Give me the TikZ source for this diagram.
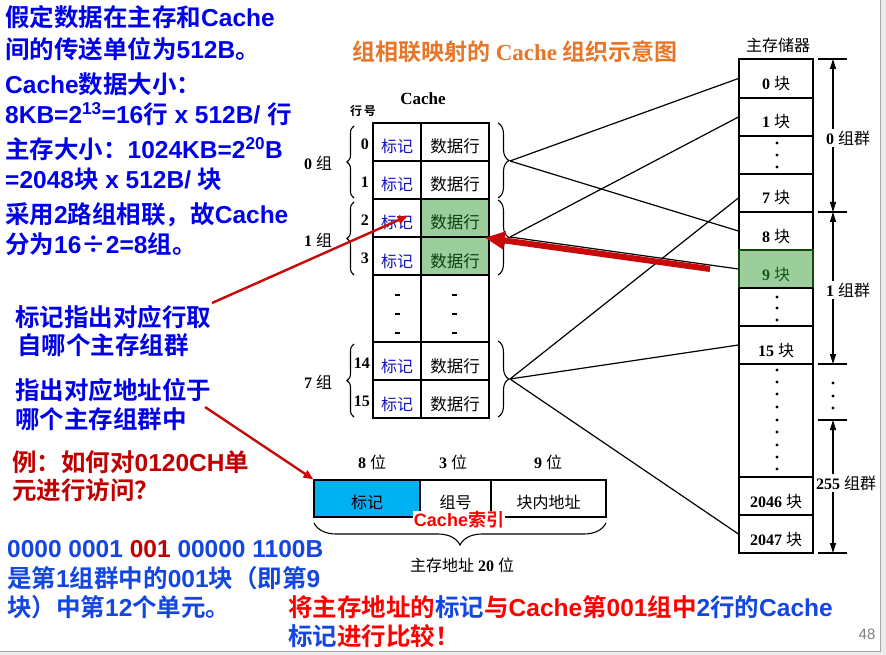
\documentclass[tikz,border=0pt]{standalone}
\usepackage{fontspec}
\setmainfont{Liberation Serif}
\setsansfont{Liberation Sans}
\newfontfamily\cjk[BoldFont={Noto Sans CJK SC Bold}]{Noto Sans CJK SC}
\usetikzlibrary{arrows.meta,decorations.pathreplacing}
\newcommand\zh[1]{{\cjk #1}}
\newcommand\zr[1]{{\cjk\mdseries #1}}
\definecolor{tblue}{RGB}{0,0,235}
\definecolor{lblue}{RGB}{20,70,225}
\definecolor{dred}{RGB}{192,0,0}
\definecolor{bred}{RGB}{255,0,0}
\definecolor{arrred}{RGB}{200,10,10}
\definecolor{cellblue}{RGB}{20,20,190}
\definecolor{gfill}{RGB}{156,206,156}
\definecolor{dgreen}{RGB}{20,90,20}
\definecolor{cyanf}{RGB}{0,176,240}
\definecolor{orangeT}{RGB}{232,118,40}
\definecolor{pagegray}{RGB}{236,236,236}
\tikzset{
  big/.style={anchor=base west, inner sep=0pt, font=\fontsize{24.5}{29}\selectfont\sffamily\bfseries},
  lbl/.style={inner sep=0pt, font=\fontsize{16}{18}\selectfont\bfseries},
  memblk/.style={draw, line width=1.2pt, minimum width=74pt, inner sep=0pt, text height=30pt, text depth=8pt, font=\fontsize{16}{18}\selectfont\bfseries},
  tagcell/.style={draw, line width=1.4pt, minimum width=48pt, minimum height=38pt, inner sep=0pt, text height=30pt, text depth=8pt, font=\fontsize{16}{18}\selectfont, text=cellblue},
  datacell/.style={draw, line width=1.4pt, minimum width=68pt, minimum height=38pt, inner sep=0pt, text height=30pt, text depth=8pt, font=\fontsize{16.5}{18}\selectfont},
  addrcell/.style={draw, line width=1.2pt, minimum height=37pt, inner sep=0pt, text height=28pt, text depth=9pt, font=\fontsize{16}{18}\selectfont},
  conn/.style={line width=1.2pt},
  dimline/.style={line width=1.1pt, {Triangle[length=10pt,width=6pt]}-{Triangle[length=10pt,width=6pt]}},
  bracedec/.style={decorate, decoration={brace, amplitude=#1}, line width=1.1pt},
  thinred/.style={arrred, line width=2.4pt, -{Triangle[length=10pt,width=8pt]}},
  dotm/.style={circle, fill, inner sep=0pt, minimum size=3.2pt},
}
\begin{document}
\begin{tikzpicture}[x=1pt,y=-1pt]
\useasboundingbox (0,0) rectangle (886,655);
\fill[pagegray] (0,0) rectangle (886,655);
\fill[white] (0,0) rectangle (880,651);
\draw[gray!70, line width=0.8pt] (880,0) -- (880,651) -- (0,651);

% ---------- left texts ----------
\node[big, text=tblue] (t1) at (5,27) {\zh{假定数据在主存和}Cache};
\node[big, text=tblue] (t2) at (5,59) {\zh{间的传送单位为}512B\zh{。}};
\node[big, text=tblue] (t3) at (5,94) {Cache\zh{数据大小：}};
\node[big, text=tblue] (t4) at (5,124) {8KB=2\textsuperscript{13}=16\zh{行} x 512B/ \zh{行}};
\node[big, text=tblue] (t5) at (5,159) {\zh{主存大小：}1024KB=2\textsuperscript{20}B};
\node[big, text=tblue] (t6) at (5,189) {=2048\zh{块} x 512B/ \zh{块}};
\node[big, text=tblue] (t7) at (5,224) {\zh{采用}2\zh{路组相联，故}Cache};
\node[big, text=tblue] (t8) at (5,254) {\zh{分为}16\zh{÷}2=8\zh{组。}};
\node[big, text=tblue] (m1) at (15,326) {\zh{标记指出对应行取}};
\node[big, text=tblue] (m2) at (17,354) {\zh{自哪个主存组群}};
\node[big, text=tblue] (m3) at (15,399) {\zh{指出对应地址位于}};
\node[big, text=tblue] (m4) at (15,428) {\zh{哪个主存组群中}};
\node[big, text=dred] (e1) at (12,471) {\zh{例：如何对}0120CH\zh{单}};
\node[big, text=dred] (e2) at (12,499) {\zh{元进行访问？}};
\node[big, text=lblue] (b1) at (7,557) {0000 0001 \textcolor{dred}{001} 00000 1100B};
\node[big, text=lblue] (b2) at (7,587) {\zh{是第}1\zh{组群中的}001\zh{块（即第}9};
\node[big, text=lblue] (b3) at (7,616) {\zh{块）中第}12\zh{个单元。}};
\node[big, text=bred] (c1) at (288,616) {\zh{将主存地址的}\textcolor{lblue}{\zh{标记}}\zh{与}Cache\zh{第}001\zh{组中}\textcolor{lblue}{2\zh{行的}Cache}};
\node[big, text=bred] (c2) at (288,645) {\textcolor{lblue}{\zh{标记}}\zh{进行比较！}};
\node[anchor=base, inner sep=0pt, font=\fontsize{15}{17}\selectfont\sffamily, text=gray] (pg) at (867,639) {48};

% ---------- title ----------
\node[inner sep=0pt, font=\fontsize{23}{25}\selectfont\bfseries, text=orangeT] (title) at (515,52) {\zh{组相联映射的} Cache \zh{组织示意图}};

% ---------- cache ----------
\node[font=\fontsize{17}{19}\selectfont\bfseries, inner sep=0pt] (cachelbl) at (423,99) {Cache};
\node[inner sep=0pt, font=\fontsize{12}{14}\selectfont\bfseries] (hh) at (363,111) {\zh{行\,号}};
\node[tagcell] (tg0) at (397,142) {\zr{标记}};
\node[datacell] (dt0) at (455,142) {\zr{数据行}};
\node[tagcell] (tg1) at (397,180) {\zr{标记}};
\node[datacell] (dt1) at (455,180) {\zr{数据行}};
\node[tagcell] (tg2) at (397,218) {\zr{标记}};
\node[datacell, fill=gfill, text=dgreen!70!black] (dt2) at (455,218) {\zr{数据行}};
\node[tagcell] (tg3) at (397,256) {\zr{标记}};
\node[datacell, fill=gfill, text=dgreen!70!black] (dt3) at (455,256) {\zr{数据行}};
\node[draw, line width=1.4pt, minimum width=48pt, minimum height=67pt, inner sep=0pt] (tgd) at (397,308.5) {};
\node[draw, line width=1.4pt, minimum width=68pt, minimum height=67pt, inner sep=0pt] (dtd) at (455,308.5) {};
\node[tagcell] (tg14) at (397,361) {\zr{标记}};
\node[datacell] (dt14) at (455,361) {\zr{数据行}};
\node[tagcell] (tg15) at (397,399) {\zr{标记}};
\node[datacell] (dt15) at (455,399) {\zr{数据行}};
\foreach \yy in {294,313,332} {
  \fill (395,\yy) rectangle (400,\yy+2);
  \fill (452,\yy) rectangle (457,\yy+2);
}
% row numbers
\node[lbl, anchor=east] (r0) at (369,144) {0};
\node[lbl, anchor=east] (r1) at (369,182) {1};
\node[lbl, anchor=east] (r2) at (369,220) {2};
\node[lbl, anchor=east] (r3) at (369,258) {3};
\node[lbl, anchor=east] (r14) at (370,363) {14};
\node[lbl, anchor=east] (r15) at (370,401) {15};
% group labels
\node[lbl] (g0l) at (318,163) {0 \zr{组}};
\node[lbl] (g1l) at (318,240) {1 \zr{组}};
\node[lbl] (g7l) at (318,382) {7 \zr{组}};
% left braces
\draw[bracedec=7pt] (354,198) -- (354,126);
\draw[bracedec=7pt] (354,275) -- (354,202);
\draw[bracedec=7pt] (354,417) -- (354,344);
% right braces
\draw[bracedec=11pt] (498,123) -- (498,198);
\draw[bracedec=11pt] (498,200) -- (498,275);
\draw[bracedec=11pt] (498,341) -- (498,417);
\coordinate (gp0) at (510,161);
\coordinate (gp1) at (510,237);
\coordinate (gp7) at (510,379);

% ---------- main memory ----------
\node[font=\fontsize{16}{18}\selectfont] (mmlbl) at (778,45) {\zr{主存储器}};
\node[memblk, minimum height=39pt] (mb0) at (776,78.5) {0 \zr{块}};
\node[memblk, minimum height=38pt] (mb1) at (776,117) {1 \zr{块}};
\node[memblk, minimum height=38pt] (mbd1) at (776,155) {};
\node[memblk, minimum height=38pt] (mb7) at (776,193) {7 \zr{块}};
\node[memblk, minimum height=38pt] (mb8) at (776,231) {8 \zr{块}};
\node[memblk, minimum height=38pt, fill=gfill, draw=dgreen!80!black, text=dgreen] (mb9) at (776,269) {9 \zr{块}};
\node[memblk, minimum height=38pt] (mbd2) at (776,307) {};
\node[memblk, minimum height=38pt] (mb15) at (776,345) {15 \zr{块}};
\node[memblk, minimum height=113pt, text height=0pt, text depth=0pt] (mbd3) at (776,420.5) {};
\node[memblk, minimum height=38pt] (mb2046) at (776,496) {2046 \zr{块}};
\node[memblk, minimum height=38pt] (mb2047) at (776,534) {2047 \zr{块}};
\foreach \yy in {143,155,167} \node[dotm] at (777,\yy) {};
\foreach \yy in {297,308,320} \node[dotm] at (777,\yy) {};
\foreach \yy in {370,382,394,407,420,432,445,457,469} \node[dotm] at (777,\yy) {};

% dimension marks
\coordinate (k0) at (833,59);
\coordinate (k1) at (833,212);
\coordinate (k2) at (833,364);
\coordinate (k3) at (833,420);
\coordinate (k4) at (833,553);
\foreach \k in {k0,k1,k2,k3,k4} \draw[line width=1.1pt] ([xshift=-15pt]\k) -- ([xshift=14pt]\k);
\draw[dimline] (k0) -- (k1);
\draw[dimline] (k1) -- (k2);
\draw[dimline] (k3) -- (k4);
\foreach \yy in {383,396,408} \node[dotm] at (833,\yy) {};
\node[lbl, fill=white, inner sep=2pt] (d0) at (848,138) {0 \zr{组群}};
\node[lbl, fill=white, inner sep=2pt] (d1) at (848,290) {1 \zr{组群}};
\node[lbl, fill=white, inner sep=2pt] (d255) at (846,483) {255 \zr{组群}};

% ---------- connectors ----------
\draw[conn] (gp0) -- (mb0.west);
\draw[conn] (gp0) -- (mb8.west);
\draw[conn] (gp1) -- (mb1.west);
\draw[conn] (gp1) -- (mb9.west);
\draw[conn] (gp7) -- ([yshift=-5pt]mb7.west);
\draw[conn] (gp7) -- (mb15.west);
\draw[conn] (gp7) -- (mb2047.west);

% ---------- address ----------
\node[lbl] (w8) at (372,462) {8 \zr{位}};
\node[lbl] (w3) at (453,462) {3 \zr{位}};
\node[lbl] (w9) at (548,462) {9 \zr{位}};
\node[addrcell, minimum width=106pt, fill=cyanf] (atag) at (367,498.5) {\zr{标记}};
\node[addrcell, minimum width=71pt] (agrp) at (455.5,498.5) {\zr{组号}};
\node[addrcell, minimum width=115pt] (aoff) at (548.5,498.5) {\zr{块内地址}};
\node[fill=white, inner sep=1pt, font=\fontsize{18}{20}\selectfont\sffamily\bfseries, text=bred] (cidx) at (459,520) {Cache\zh{索引}};
\draw[bracedec=22pt] (606,523) -- (314,523);
\node[font=\fontsize{16}{18}\selectfont] (addrlbl) at (462,565) {\zr{主存地址} \textbf{20} \zr{位}};

% ---------- red arrows ----------
\coordinate (ra1s) at (212,303);
\coordinate (ra2s) at (205,407);
\draw[thinred] (ra1s) -- ([xshift=-14pt,yshift=2pt]tg2.east);
\draw[thinred] (ra2s) -- (atag.north west);
\coordinate (bigs) at (710,269);
\draw[arrred, line width=6pt, -{Triangle[length=20pt,width=17pt]}] (bigs) -- ([xshift=-5pt]dt2.south east);
\end{tikzpicture}
\end{document}
